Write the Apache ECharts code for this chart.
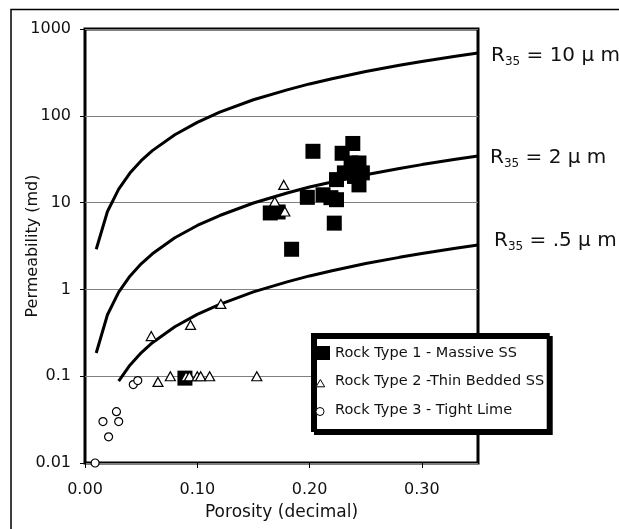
<!DOCTYPE html>
<html>
<head>
<meta charset="utf-8">
<script src="https://cdn.jsdelivr.net/npm/echarts@6/dist/echarts.min.js"></script>
<style>
  html, body { margin: 0; padding: 0; background: #fff; }
  #main { width: 619px; height: 529px; }
</style>
</head>
<body>
<div id="main"></div>
<script>
// R35 pore throat radius curves (porosity as decimal, permeability in md)
var curvePorosity = [0.01, 0.02, 0.03, 0.04, 0.05, 0.06, 0.08, 0.10, 0.12, 0.15, 0.18, 0.20, 0.22, 0.25, 0.28, 0.30, 0.33, 0.35];
var r35Ten = [2.9, 7.9, 14.3, 21.9, 30.4, 39.7, 60.5, 84, 110, 153, 199, 233, 267, 324, 382, 423, 486, 530];
var r35Two = [0.185, 0.51, 0.93, 1.42, 1.97, 2.57, 3.93, 5.45, 7.1, 9.9, 12.9, 15.1, 17.3, 20.9, 24.7, 27.4, 31.5, 34.4];
var lowPorosity = [0.03, 0.04, 0.05, 0.06, 0.08, 0.10, 0.12, 0.15, 0.18, 0.20, 0.22, 0.25, 0.28, 0.30, 0.33, 0.35];
var r35Half = [0.088, 0.134, 0.186, 0.243, 0.371, 0.516, 0.673, 0.935, 1.22, 1.43, 1.64, 1.99, 2.34, 2.59, 2.98, 3.25];

// rock samples
var rock1Porosity = [0.089, 0.165, 0.172, 0.184, 0.198, 0.203, 0.212, 0.219, 0.222, 0.224, 0.224, 0.229, 0.231, 0.237, 0.2385, 0.240, 0.244, 0.244, 0.247];
var rock1Perm = [0.095, 7.6, 7.8, 2.9, 11.5, 39, 12.3, 11.4, 5.8, 10.8, 18.4, 37, 22, 28.6, 48, 20, 28.6, 16, 22];

var rock2Porosity = [0.059, 0.094, 0.121, 0.065, 0.076, 0.090, 0.093, 0.100, 0.103, 0.111, 0.153, 0.169, 0.177, 0.178];
var rock2Perm = [0.29, 0.39, 0.68, 0.086, 0.1, 0.1, 0.1, 0.1, 0.1, 0.1, 0.1, 10.3, 16, 7.9];

var rock3Porosity = [0.009, 0.043, 0.047, 0.028, 0.016, 0.030, 0.021];
var rock3Perm = [0.01, 0.08, 0.089, 0.039, 0.03, 0.03, 0.02];

var porosityTicks = [0, 0.1, 0.2, 0.3];
var seriesNames = ['Rock Type 1 - Massive SS', 'Rock Type 2 -Thin Bedded SS', 'Rock Type 3 - Tight Lime'];

function pairs(xs, ys) {
  return xs.map(function (x, i) { return [x, ys[i]]; });
}

var font = 'DejaVu Sans';
var curveStyle = { color: '#000', width: 3 };

function curve(xs, ys) {
  return {
    type: 'line', data: pairs(xs, ys), showSymbol: false, smooth: false,
    lineStyle: curveStyle, silent: true, z: 3
  };
}

function r35Label(x, y, rest) {
  return {
    type: 'text', x: x, y: y, z: 10,
    style: {
      text: '{r|R}{s|35}{r| = ' + rest + '}',
      rich: {
        r: { fontSize: 20, fontFamily: font, fill: '#111', lineHeight: 24 },
        s: { fontSize: 12, fontFamily: font, fill: '#111', lineHeight: 10, verticalAlign: 'bottom' }
      }
    }
  };
}

var chart = echarts.init(document.getElementById('main'));
chart.setOption({
  animation: false,
  backgroundColor: '#fff',
  grid: {
    left: 85, right: 141, top: 29, bottom: 66,
    outerBoundsMode: 'none',
    show: true, borderColor: '#000', borderWidth: 3, backgroundColor: 'transparent'
  },
  xAxis: {
    type: 'value', min: 0, max: 0.35, interval: 0.1,
    name: 'Porosity (decimal)', nameLocation: 'middle', nameGap: 41, nameMoveOverlap: false,
    nameTextStyle: { fontSize: 17, fontFamily: font, color: '#111' },
    axisLine: { show: false },
    axisTick: { show: true, length: 5, lineStyle: { color: '#000', width: 1 }, customValues: porosityTicks },
    axisLabel: {
      fontSize: 16, fontFamily: font, color: '#111', margin: 19,
      customValues: porosityTicks,
      formatter: function (v) { return v.toFixed(2); }
    },
    splitLine: { show: false }
  },
  yAxis: {
    type: 'log', logBase: 10, min: 0.01, max: 1000,
    name: 'Permeability (md)', nameLocation: 'middle', nameGap: 44, nameRotate: 90, nameMoveOverlap: false,
    nameTextStyle: { fontSize: 16, fontFamily: font, color: '#111' },
    axisLine: { show: false },
    axisTick: { show: true, length: 5, lineStyle: { color: '#000', width: 1 } },
    axisLabel: {
      fontSize: 16, fontFamily: font, color: '#111', margin: 14,
      formatter: function (v) { return String(Number(v.toPrecision(3))); }
    },
    splitLine: { show: true, lineStyle: { color: '#808080', width: 1 } },
    minorTick: { show: false }
  },
  legend: {
    orient: 'vertical', left: 312.5, top: 334.5,
    padding: [11, 4, 13, 3], itemGap: 13.5,
    itemWidth: 14, itemHeight: 14,
    backgroundColor: '#fff', borderColor: '#000', borderWidth: 3,
    shadowColor: '#000', shadowBlur: 0, shadowOffsetX: 3, shadowOffsetY: 3,
    textStyle: { fontSize: 14.5, fontFamily: font, color: '#111' },
    data: [
      { name: seriesNames[0], icon: 'rect', itemStyle: { color: '#000', opacity: 1 } },
      { name: seriesNames[1], icon: 'path://M0,0 M14,14 M4,5 L8.5,12.5 L-0.5,12.5 Z',
        itemStyle: { color: '#fff', borderColor: '#000', borderWidth: 1, opacity: 1 } },
      { name: seriesNames[2], icon: 'path://M0,0 M14,14 M8,8.5 A4,4 0 1 1 0,8.5 A4,4 0 1 1 8,8.5 Z',
        itemStyle: { color: '#fff', borderColor: '#000', borderWidth: 1, opacity: 1 } }
    ]
  },
  graphic: [
    { type: 'rect', shape: { x: 11, y: 9.5, width: 700, height: 600 },
      style: { fill: 'none', stroke: '#000', lineWidth: 1.5 }, z: -1, silent: true },
    r35Label(491, 44, '10 μ m'),
    r35Label(490, 146, '2 μ m'),
    r35Label(494, 229, '.5 μ m')
  ],
  series: [
    curve(curvePorosity, r35Ten),
    curve(curvePorosity, r35Two),
    curve(lowPorosity, r35Half),
    {
      name: seriesNames[0], type: 'scatter', data: pairs(rock1Porosity, rock1Perm),
      symbol: 'rect', symbolSize: 15, itemStyle: { color: '#000', opacity: 1 }, z: 4
    },
    {
      name: seriesNames[1], type: 'scatter', data: pairs(rock2Porosity, rock2Perm),
      symbol: 'triangle', symbolSize: [10, 9],
      itemStyle: { color: '#fff', borderColor: '#000', borderWidth: 1.2, opacity: 1 }, z: 5
    },
    {
      name: seriesNames[2], type: 'scatter', data: pairs(rock3Porosity, rock3Perm),
      symbol: 'circle', symbolSize: 8,
      itemStyle: { color: '#fff', borderColor: '#000', borderWidth: 1.2, opacity: 1 }, z: 5
    }
  ]
});
</script>
</body>
</html>
